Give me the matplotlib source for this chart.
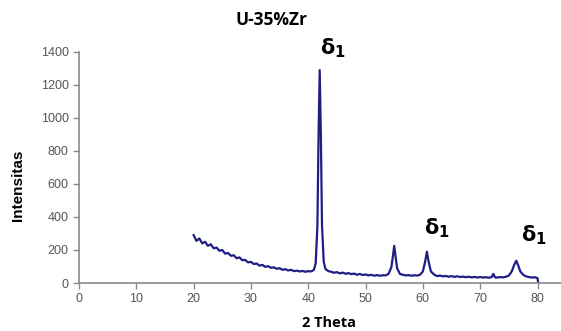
import numpy as np
import matplotlib.pyplot as plt

# XRD pattern U-35%Zr
two_theta = [20.0, 20.5, 21.0, 21.5, 22.0, 22.5, 23.0, 23.5, 24.0, 24.5,
             25.0, 25.5, 26.0, 26.5, 27.0, 27.5, 28.0, 28.5, 29.0, 29.5,
             30.0, 30.5, 31.0, 31.5, 32.0, 32.5, 33.0, 33.5, 34.0, 34.5,
             35.0, 35.5, 36.0, 36.5, 37.0, 37.5, 38.0, 38.5, 39.0, 39.5,
             40.0, 40.5, 41.0, 41.3, 41.6, 41.8, 42.0, 42.2, 42.4, 42.7,
             43.0, 43.5, 44.0, 44.5, 45.0, 45.5, 46.0, 46.5, 47.0, 47.5,
             48.0, 48.5, 49.0, 49.5, 50.0, 50.5, 51.0, 51.5, 52.0, 52.5,
             53.0, 53.5, 54.0, 54.5, 54.8, 55.0, 55.2, 55.5, 56.0, 56.5,
             57.0, 57.5, 58.0, 58.5, 59.0, 59.5, 60.0, 60.4, 60.7, 61.0,
             61.4, 62.0, 62.5, 63.0, 63.5, 64.0, 64.5, 65.0, 65.5, 66.0,
             66.5, 67.0, 67.5, 68.0, 68.5, 69.0, 69.5, 70.0, 70.5, 71.0,
             71.5, 72.0, 72.3, 72.6, 73.0, 73.5, 74.0, 74.5, 75.0, 75.5,
             76.0, 76.3, 76.6, 77.0, 77.5, 78.0, 78.5, 79.0, 79.5, 80.0,
             80.1]
intensity = [290, 255, 270, 240, 250, 225, 235, 210, 215, 195,
             200, 178, 182, 165, 168, 150, 155, 138, 140, 125,
             128, 115, 118, 105, 110, 98, 102, 92, 95, 86,
             90, 80, 84, 76, 80, 72, 75, 70, 73, 68,
             72, 70, 80, 120, 350, 900, 1290, 900, 350, 130,
             85, 72, 68, 62, 66, 58, 63, 56, 60, 54,
             57, 50, 55, 48, 52, 46, 50, 44, 48, 44,
             47, 46, 55, 95, 170, 225, 170, 90, 55, 50,
             46, 48, 44, 47, 45, 50, 70, 130, 190, 130,
             70, 50, 42, 45, 40, 43, 38, 42, 37, 41,
             36, 39, 35, 38, 34, 37, 33, 36, 33, 35,
             32, 36, 55, 34, 33, 36, 34, 38, 45, 70,
             115, 135, 110, 70, 50, 40, 36, 33, 35, 30,
             8]

# peak labels
peak_x = [44.3, 62.5, 79.4]
peak_y = [1420, 335, 290]

fig = plt.figure(figsize=(5.61, 3.31), dpi=100)
ax = fig.add_axes([0.1408, 0.145, 0.8592, 0.698])
ax.plot(two_theta, intensity, color='#1e1e84', lw=1.6)

ax.set_xlim(0, 84.1)
ax.set_ylim(0, 1400)
ax.set_xticks(np.arange(0, 81, 10))
ax.set_yticks(np.arange(0, 1401, 200))
for s in ['top', 'right']:
    ax.spines[s].set_visible(False)
for s in ['left', 'bottom']:
    ax.spines[s].set_color('#8a8a8a')
    ax.spines[s].set_linewidth(1.2)
ax.tick_params(colors='#8a8a8a', labelcolor='#555555', length=4, width=1,
               labelsize=9)
for lab in ax.get_xticklabels() + ax.get_yticklabels():
    lab.set_family('Liberation Sans')

for px, py in zip(peak_x, peak_y):
    ax.text(px, py, r'δ$_{\mathbf{1}}$', ha='center', va='center', fontsize=15,
            fontweight='bold', family='DejaVu Sans', clip_on=False)

fig.text(0.484, 0.94, 'U-35%Zr', ha='center', va='center', fontsize=12.5,
         fontweight='bold', family='Open Sans')
fig.text(0.587, 0.025, '2 Theta', ha='center', va='center', fontsize=10.5,
         fontweight='bold', family='Open Sans')
fig.text(0.032, 0.44, 'Intensitas', ha='center', va='center', rotation=90,
         fontsize=11, fontweight='bold', family='Liberation Sans')

plt.savefig('out.png', dpi=100)
